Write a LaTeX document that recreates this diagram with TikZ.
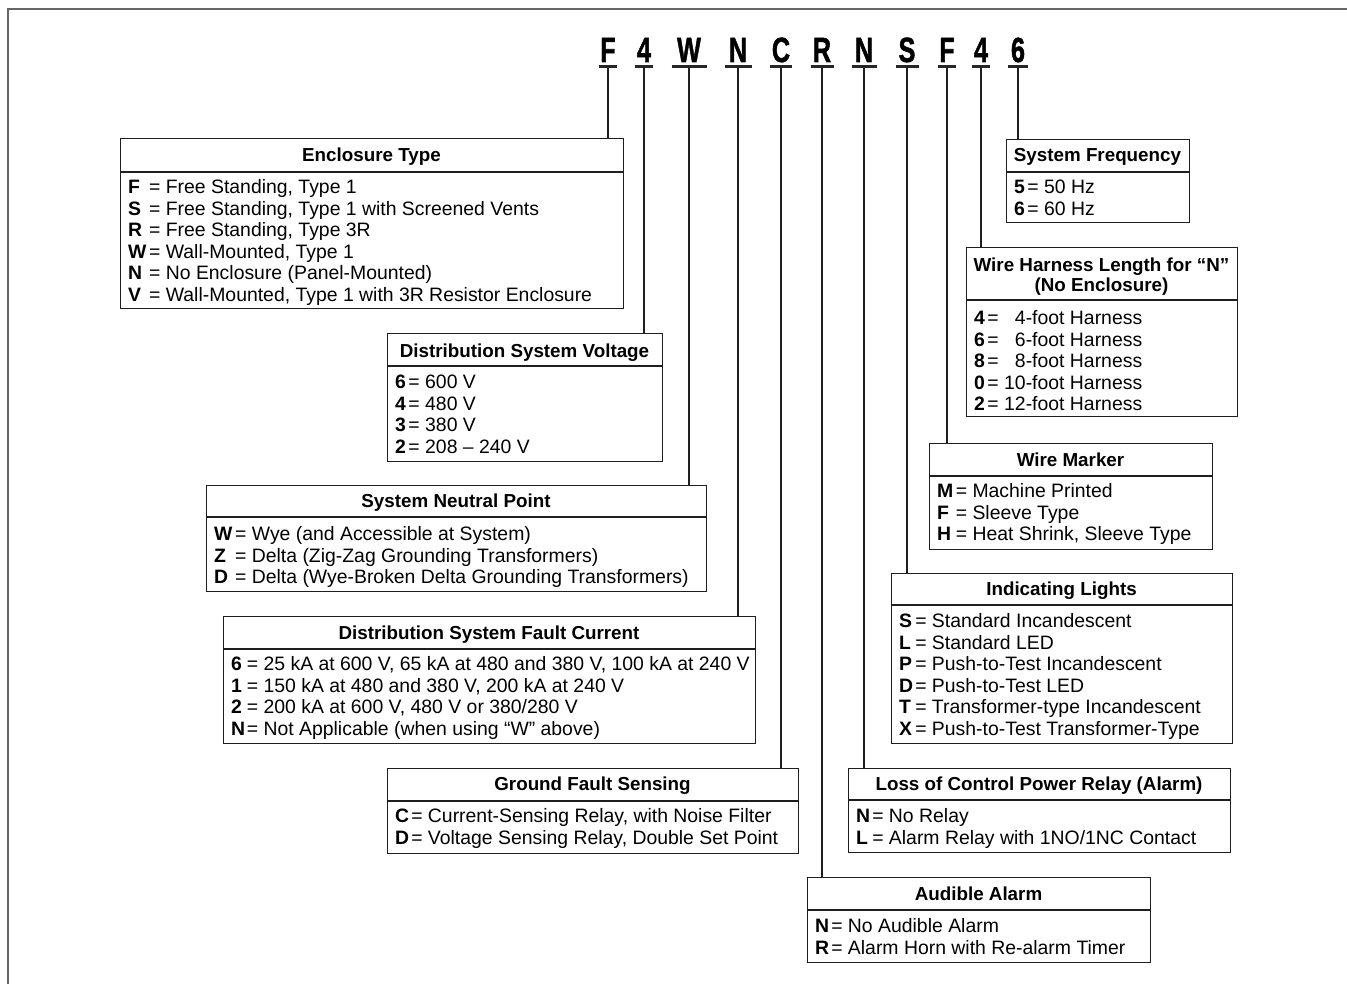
\documentclass[tikz,border=0pt]{standalone}
\usepackage{fontspec}
\setmainfont{Liberation Sans}
\newfontfamily\codefont[FakeBold=1.6]{Liberation Sans}
\usepackage{graphicx}
\newcommand\K[2]{\makebox[#1][l]{\bfseries #2}\kern2.5pt=\ }
\newcommand\bodyfont{\fontsize{19.4}{21.6}\selectfont}
\newcommand\hdrfont{\fontsize{18.8}{21.6}\selectfont\bfseries}
\tikzset{
  boxsty/.style={draw=black!88, line width=1.4pt, inner sep=0pt, fill=white},
  sepline/.style={draw=black!88, line width=1.2pt},
  hdr/.style={inner sep=0pt, anchor=base, font=\hdrfont},
  txt/.style={inner sep=0pt, anchor=base west, font=\bodyfont},
  code/.style={inner sep=0pt, anchor=base, font=\codefont\fontsize{35}{35}\selectfont\bfseries},
  uline/.style={line width=3pt, black!85},
  conn/.style={line width=1.3pt, black!88},
  frame/.style={line width=2.6pt, draw=black!60}
}
% name, x1, y1, x2, y2, ysep
\newcommand\kbox[6]{%
  \node[boxsty, minimum width=#4-#2, minimum height=#5-#3, anchor=north west] (#1) at (#2,#3) {};
  \draw[sepline] (#1.west |- 0,#6) -- (#1.east |- 0,#6);
}
% name, x, first baseline, list
\newcommand\blines[4]{%
  \foreach \t [count=\i from 0] in {#4} {
    \node[txt] (#1-l\i) at (#2, #3+21.6*\i) {\t};
  }
}
\begin{document}
\begin{tikzpicture}[x=1pt,y=-1pt]
\useasboundingbox (0,0) rectangle (1347,984);
% outer frame (open right and bottom)
\coordinate (fr) at (8,9);
\draw[frame] (fr |- 0,984) -- (fr) -- (1347,9);

% code letters
\foreach \x/\c/\w [count=\i] in {608/F/18, 644/4/18, 689/W/35, 738/N/27, 781/C/22, 822/R/23, 864/N/25, 907/S/23, 947/F/18, 981/4/18, 1018/6/20} {
  \node[code] (L\i) at (\x,62) {\scalebox{0.72}[1]{\c}};
  \coordinate (u\i) at (\x,67);
  \draw[uline] (u\i) ++(-\w/2,0) -- ++(\w,0);
}

% ---------- Enclosure Type
\kbox{enc}{120}{138}{623}{308}{172}
\node[hdr] (enc-h) at (371.5,162) {Enclosure Type};
\blines{enc}{128}{193.5}{
 {\K{.95em}{F}Free Standing, Type 1},
 {\K{.95em}{S}Free Standing, Type 1 with Screened Vents},
 {\K{.95em}{R}Free Standing, Type 3R},
 {\K{.95em}{W}Wall-Mounted, Type 1},
 {\K{.95em}{N}No Enclosure (Panel-Mounted)},
 {\K{.95em}{V}Wall-Mounted, Type 1 with 3R Resistor Enclosure}}

% ---------- Distribution System Voltage
\kbox{volt}{387}{333}{662}{461}{366}
\node[hdr] (volt-h) at (524.5,357.5) {Distribution System Voltage};
\blines{volt}{395}{388.5}{
 {\K{.556em}{6}600 V},
 {\K{.556em}{4}480 V},
 {\K{.556em}{3}380 V},
 {\K{.556em}{2}208 – 240 V}}

% ---------- System Neutral Point
\kbox{neut}{206}{485}{706}{591}{517}
\node[hdr] (neut-h) at (456,507.5) {System Neutral Point};
\blines{neut}{214}{540.5}{
 {\K{.95em}{W}Wye (and Accessible at System)},
 {\K{.95em}{Z}Delta (Zig-Zag Grounding Transformers)},
 {\K{.95em}{D}Delta (Wye-Broken Delta Grounding Transformers)}}

% ---------- Distribution System Fault Current
\kbox{fault}{223}{616}{755}{743}{649}
\node[hdr] (fault-h) at (489,639.5) {Distribution System Fault Current};
\blines{fault}{231}{670.5}{
 {\K{.68em}{6}25 kA at 600 V, 65 kA at 480 and 380 V, 100 kA at 240 V},
 {\K{.68em}{1}150 kA at 480 and 380 V, 200 kA at 240 V},
 {\K{.68em}{2}200 kA at 600 V, 480 V or 380/280 V},
 {\K{.68em}{N}Not Applicable (when using “W” above)}}

% ---------- Ground Fault Sensing
\kbox{gnd}{387}{768}{798}{853}{801}
\node[hdr] (gnd-h) at (592.5,790.5) {Ground Fault Sensing};
\blines{gnd}{395}{822.5}{
 {\K{.7em}{C}Current-Sensing Relay, with Noise Filter},
 {\K{.7em}{D}Voltage Sensing Relay, Double Set Point}}

% ---------- Audible Alarm
\kbox{aud}{807}{877}{1150}{962}{910}
\node[hdr] (aud-h) at (978.5,900.5) {Audible Alarm};
\blines{aud}{815}{932.5}{
 {\K{.7em}{N}No Audible Alarm},
 {\K{.7em}{R}Alarm Horn with Re-alarm Timer}}

% ---------- Loss of Control Power Relay
\kbox{loss}{848}{768}{1230}{852}{800}
\node[hdr] (loss-h) at (1039,790.5) {Loss of Control Power Relay (Alarm)};
\blines{loss}{856}{822.5}{
 {\K{.7em}{N}No Relay},
 {\K{.7em}{L}Alarm Relay with 1NO/1NC Contact}}

% ---------- Indicating Lights
\kbox{ind}{891}{573}{1232}{743}{605}
\node[hdr] (ind-h) at (1061.5,595.5) {Indicating Lights};
\blines{ind}{899}{627.5}{
 {\K{.7em}{S}Standard Incandescent},
 {\K{.7em}{L}Standard LED},
 {\K{.7em}{P}Push-to-Test Incandescent},
 {\K{.7em}{D}Push-to-Test LED},
 {\K{.7em}{T}Transformer-type Incandescent},
 {\K{.7em}{X}Push-to-Test Transformer-Type}}

% ---------- Wire Marker
\kbox{wm}{929}{443}{1212}{549}{476}
\node[hdr] (wm-h) at (1070.5,466.5) {Wire Marker};
\blines{wm}{937}{497.5}{
 {\K{.83em}{M}Machine Printed},
 {\K{.83em}{F}Sleeve Type},
 {\K{.83em}{H}Heat Shrink, Sleeve Type}}

% ---------- Wire Harness Length
\kbox{harn}{966}{247}{1237}{416}{300}
\node[hdr] (harn-h1) at (1101.5,271.5) {Wire Harness Length for “N”};
\node[hdr] (harn-h2) at (1101.5,291.5) {(No Enclosure)};
\blines{harn}{974}{324.5}{
 {\K{.556em}{4}\phantom{1}4-foot Harness},
 {\K{.556em}{6}\phantom{1}6-foot Harness},
 {\K{.556em}{8}\phantom{1}8-foot Harness},
 {\K{.556em}{0}10-foot Harness},
 {\K{.556em}{2}12-foot Harness}}

% ---------- System Frequency
\kbox{freq}{1006}{139}{1189}{222}{172}
\node[hdr] (freq-h) at (1097.5,162) {System Frequency};
\blines{freq}{1014}{193.5}{
 {\K{.556em}{5}50 Hz},
 {\K{.556em}{6}60 Hz}}

% connectors
\draw[conn] (u1) -- (u1 |- enc.north);
\draw[conn] (u2) -- (u2 |- volt.north);
\draw[conn] (u3) -- (u3 |- neut.north);
\draw[conn] (u4) -- (u4 |- fault.north);
\draw[conn] (u5) -- (u5 |- gnd.north);
\draw[conn] (u6) -- (u6 |- aud.north);
\draw[conn] (u7) -- (u7 |- loss.north);
\draw[conn] (u8) -- (u8 |- ind.north);
\draw[conn] (u9) -- (u9 |- wm.north);
\draw[conn] (u10) -- (u10 |- harn.north);
\draw[conn] (u11) -- (u11 |- freq.north);
\end{tikzpicture}
\end{document}
